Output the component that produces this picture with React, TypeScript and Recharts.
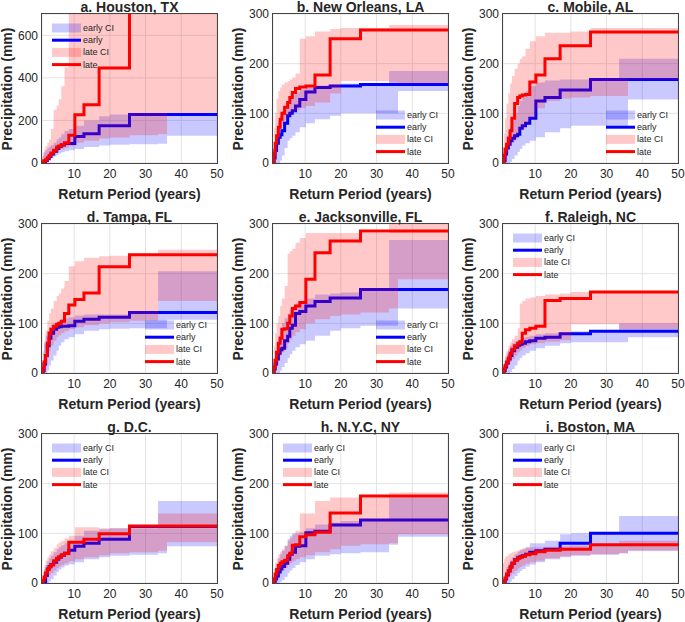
import React from 'react';
import { ComposedChart, Area, Line, XAxis, YAxis, CartesianGrid } from 'recharts';

// return periods (years) where the empirical curves / CI bands step
const returnPeriod = [1, 1.3, 1.6, 2, 2.5, 3, 3.5, 4.25, 5.1, 5.7, 6.4, 7.3, 8.5, 10.2, 12.75, 17, 20, 25.5, 33.5, 36, 50];

// a. Houston
const houEarly = [0, 0, 5, 12, 20, 30, 42, 55, 68, 78, 85, 92, 92, 125, 138, 175, 175, 228, 228, 228, 228];
const houLate = [0, 5, 10, 15, 25, 35, 47, 60, 75, 80, 86, 95, 130, 227, 274, 446, 446, 800, 800, 800, 800];
const houEarlyLo = [0, 0, 0, 2, 8, 15, 22, 30, 38, 45, 50, 55, 60, 66, 75, 82, 86, 88, 90, 128, 128];
const houEarlyHi = [20, 35, 50, 60, 70, 78, 85, 95, 110, 120, 135, 150, 160, 175, 200, 220, 228, 232, 232, 232, 232];
const houLateLo = [0, 5, 10, 15, 20, 28, 35, 45, 55, 60, 65, 72, 80, 95, 105, 115, 120, 130, 135, 235, 235];
const houLateHi = [30, 50, 65, 80, 95, 110, 160, 250, 270, 300, 360, 450, 800, 800, 800, 800, 800, 800, 800, 800, 800];

// b. New Orleans
const nolEarly = [0, 10, 25, 40, 52, 57, 65, 80, 95, 100, 105, 115, 128, 143, 152, 155, 155, 158, 158, 158, 158];
const nolLate = [0, 20, 40, 55, 72, 88, 100, 112, 122, 132, 142, 150, 153, 155, 177, 250, 250, 268, 268, 268, 268];
const nolEarlyLo = [0, 0, 0, 0, 0, 5, 15, 30, 45, 50, 55, 62, 72, 80, 88, 95, 100, 100, 100, 145, 145];
const nolEarlyHi = [10, 40, 55, 70, 85, 95, 105, 115, 125, 132, 138, 142, 148, 152, 156, 158, 160, 160, 185, 185, 185];
const nolLateLo = [0, 10, 25, 40, 55, 68, 78, 86, 94, 98, 102, 106, 110, 115, 122, 140, 165, 165, 162, 160, 160];
const nolLateHi = [30, 70, 100, 130, 145, 152, 158, 162, 165, 168, 172, 180, 250, 255, 265, 270, 272, 272, 278, 278, 278];

// c. Mobile
const mobEarly = [0, 5, 18, 30, 38, 45, 50, 55, 58, 70, 75, 80, 90, 125, 132, 147, 147, 168, 168, 168, 168];
const mobLate = [0, 15, 28, 38, 50, 65, 90, 120, 132, 135, 137, 138, 163, 177, 210, 236, 236, 264, 264, 264, 264];
const mobEarlyLo = [0, 0, 0, 0, 0, 2, 8, 15, 22, 28, 35, 40, 45, 52, 62, 70, 75, 75, 75, 128, 128];
const mobEarlyHi = [10, 25, 40, 55, 65, 75, 85, 100, 115, 125, 135, 145, 155, 162, 166, 168, 168, 170, 210, 210, 210];
const mobLateLo = [0, 5, 12, 20, 28, 35, 42, 50, 58, 65, 72, 80, 90, 110, 125, 130, 132, 135, 135, 168, 168];
const mobLateHi = [30, 60, 90, 120, 140, 160, 175, 190, 200, 210, 215, 230, 245, 255, 262, 262, 265, 272, 272, 272, 272];

// d. Tampa
const tpaEarly = [0, 5, 18, 35, 55, 70, 80, 88, 92, 93, 94, 94, 95, 104, 108, 112, 112, 122, 122, 122, 122];
const tpaLate = [0, 10, 22, 35, 60, 80, 88, 94, 98, 100, 104, 120, 137, 148, 161, 214, 214, 238, 238, 238, 238];
const tpaEarlyLo = [0, 0, 0, 0, 5, 15, 25, 35, 45, 55, 62, 68, 72, 78, 85, 88, 89, 90, 90, 107, 107];
const tpaEarlyHi = [20, 40, 60, 75, 85, 92, 97, 100, 103, 105, 108, 110, 112, 116, 118, 118, 118, 120, 205, 205, 205];
const tpaLateLo = [0, 0, 5, 15, 30, 45, 55, 65, 72, 76, 80, 84, 88, 92, 96, 100, 102, 105, 145, 145, 145];
const tpaLateHi = [25, 45, 65, 85, 105, 120, 130, 145, 155, 160, 170, 185, 215, 225, 232, 235, 236, 240, 248, 248, 248];

// e. Jacksonville
const jaxEarly = [0, 8, 18, 28, 40, 47, 50, 65, 74, 90, 96, 120, 124, 135, 144, 151, 151, 168, 168, 168, 168];
const jaxLate = [0, 12, 25, 42, 60, 70, 88, 89, 100, 115, 130, 135, 142, 189, 242, 266, 266, 286, 286, 286, 286];
const jaxEarlyLo = [0, 0, 0, 0, 0, 5, 12, 20, 30, 38, 45, 52, 58, 65, 75, 85, 90, 95, 95, 130, 130];
const jaxEarlyHi = [15, 30, 45, 60, 75, 90, 100, 110, 120, 128, 135, 140, 145, 150, 158, 160, 162, 168, 268, 268, 268];
const jaxLateLo = [0, 5, 12, 20, 28, 35, 42, 50, 60, 68, 75, 82, 88, 100, 108, 115, 118, 122, 130, 189, 189];
const jaxLateHi = [30, 55, 80, 100, 115, 135, 150, 175, 240, 245, 250, 262, 272, 282, 282, 282, 282, 282, 310, 310, 310];

// f. Raleigh
const ralEarly = [0, 5, 12, 20, 28, 35, 45, 52, 56, 58, 60, 63, 65, 70, 72, 79, 79, 84, 84, 84, 84];
const ralLate = [0, 8, 15, 22, 30, 40, 48, 55, 60, 63, 80, 87, 90, 94, 146, 150, 150, 163, 163, 163, 163];
const ralEarlyLo = [0, 0, 0, 0, 0, 2, 8, 15, 25, 30, 35, 40, 45, 50, 55, 60, 62, 62, 62, 72, 72];
const ralEarlyHi = [10, 20, 30, 40, 48, 55, 60, 64, 67, 69, 71, 73, 75, 78, 80, 82, 84, 86, 100, 100, 100];
const ralLateLo = [0, 3, 6, 10, 16, 22, 28, 35, 42, 46, 50, 54, 58, 60, 63, 66, 98, 98, 88, 88, 88];
const ralLateHi = [15, 25, 35, 45, 55, 62, 68, 75, 90, 140, 145, 150, 152, 155, 158, 160, 163, 165, 165, 165, 165];

// g. D.C.
const dcEarly = [0, 0, 3, 15, 28, 33, 37, 42, 48, 52, 56, 60, 66, 74, 80, 88, 88, 114, 114, 114, 114];
const dcLate = [0, 5, 12, 20, 27, 32, 36, 45, 50, 53, 57, 60, 82, 82, 88, 99, 99, 115, 115, 115, 115];
const dcEarlyLo = [0, 0, 0, 0, 0, 3, 8, 15, 22, 27, 31, 35, 38, 42, 48, 52, 55, 57, 60, 74, 74];
const dcEarlyHi = [10, 20, 28, 36, 44, 50, 55, 62, 68, 72, 76, 80, 85, 95, 105, 108, 110, 110, 165, 165, 165];
const dcLateLo = [0, 2, 5, 8, 12, 16, 20, 25, 30, 33, 36, 40, 44, 48, 52, 56, 60, 62, 65, 82, 82];
const dcLateHi = [15, 25, 35, 45, 52, 58, 64, 70, 78, 82, 85, 90, 95, 112, 112, 110, 110, 112, 140, 140, 140];

// h. N.Y.C
const nycEarly = [0, 3, 8, 14, 22, 28, 33, 40, 48, 58, 62, 74, 75, 101, 104, 117, 117, 127, 127, 127, 127];
const nycLate = [0, 8, 18, 27, 35, 40, 43, 46, 55, 60, 76, 77, 93, 97, 102, 141, 141, 175, 175, 175, 175];
const nycEarlyLo = [0, 0, 0, 0, 0, 2, 6, 12, 20, 25, 30, 36, 42, 48, 55, 58, 60, 62, 77, 93, 93];
const nycEarlyHi = [10, 20, 30, 40, 50, 58, 65, 75, 88, 95, 100, 100, 102, 110, 118, 122, 125, 128, 172, 172, 172];
const nycLateLo = [0, 3, 6, 10, 15, 20, 25, 30, 36, 40, 44, 48, 52, 56, 62, 68, 75, 78, 80, 98, 98];
const nycLateHi = [15, 28, 40, 50, 58, 63, 68, 75, 85, 90, 97, 105, 140, 140, 165, 172, 172, 172, 182, 182, 182];

// i. Boston
const bosEarly = [0, 3, 8, 16, 24, 32, 40, 47, 51, 53, 55, 58, 62, 65, 68, 80, 80, 100, 100, 100, 100];
const bosLate = [0, 4, 10, 18, 25, 32, 40, 46, 50, 52, 54, 57, 59, 63, 66, 68, 68, 77, 77, 77, 77];
const bosEarlyLo = [0, 0, 0, 0, 0, 3, 8, 14, 20, 24, 28, 33, 37, 42, 48, 52, 55, 57, 60, 65, 65];
const bosEarlyHi = [8, 16, 24, 32, 40, 46, 52, 58, 63, 66, 68, 72, 80, 80, 85, 98, 100, 100, 135, 135, 135];
const bosLateLo = [0, 2, 4, 7, 11, 15, 19, 24, 29, 32, 35, 39, 42, 45, 50, 54, 56, 58, 60, 65, 65];
const bosLateHi = [40, 48, 52, 55, 58, 60, 62, 64, 66, 68, 70, 71, 72, 72, 73, 74, 75, 78, 85, 85, 85];

const xTicks = [10, 20, 30, 40, 50];
const yTicks300 = [0, 100, 200, 300];
const yTicks700 = [0, 200, 400, 600];

const FONT = '"Liberation Sans", Arial, Helvetica, sans-serif';
const BLUE = '#0000ff';
const RED = '#ff0000';
const CI_OPACITY = 0.21;
const TEXT = '#262626';

const COLS = [42, 273, 503];
const ROWS = [14, 224, 434];
const PLOT_W = 175;
const PLOT_H = 149;
const CHART_W = 48 + PLOT_W + 8;
const CHART_H = 24 + PLOT_H + 20;
const MARGIN = { top: 24, right: 8, bottom: 0, left: 0 };

const panels = [
  { title: 'a. Houston, TX', col: 0, row: 0, yMax: 700, yTicks: yTicks700, legend: 'tl', early: houEarly, late: houLate, eLo: houEarlyLo, eHi: houEarlyHi, lLo: houLateLo, lHi: houLateHi },
  { title: 'b. New Orleans, LA', col: 1, row: 0, yMax: 300, yTicks: yTicks300, legend: 'br', early: nolEarly, late: nolLate, eLo: nolEarlyLo, eHi: nolEarlyHi, lLo: nolLateLo, lHi: nolLateHi },
  { title: 'c. Mobile, AL', col: 2, row: 0, yMax: 300, yTicks: yTicks300, legend: 'br', early: mobEarly, late: mobLate, eLo: mobEarlyLo, eHi: mobEarlyHi, lLo: mobLateLo, lHi: mobLateHi },
  { title: 'd. Tampa, FL', col: 0, row: 1, yMax: 300, yTicks: yTicks300, legend: 'br', early: tpaEarly, late: tpaLate, eLo: tpaEarlyLo, eHi: tpaEarlyHi, lLo: tpaLateLo, lHi: tpaLateHi },
  { title: 'e. Jacksonville, FL', col: 1, row: 1, yMax: 300, yTicks: yTicks300, legend: 'br', early: jaxEarly, late: jaxLate, eLo: jaxEarlyLo, eHi: jaxEarlyHi, lLo: jaxLateLo, lHi: jaxLateHi },
  { title: 'f. Raleigh, NC', col: 2, row: 1, yMax: 300, yTicks: yTicks300, legend: 'tl', early: ralEarly, late: ralLate, eLo: ralEarlyLo, eHi: ralEarlyHi, lLo: ralLateLo, lHi: ralLateHi },
  { title: 'g. D.C.', col: 0, row: 2, yMax: 300, yTicks: yTicks300, legend: 'tl', early: dcEarly, late: dcLate, eLo: dcEarlyLo, eHi: dcEarlyHi, lLo: dcLateLo, lHi: dcLateHi },
  { title: 'h. N.Y.C, NY', col: 1, row: 2, yMax: 300, yTicks: yTicks300, legend: 'tl', early: nycEarly, late: nycLate, eLo: nycEarlyLo, eHi: nycEarlyHi, lLo: nycLateLo, lHi: nycLateHi },
  { title: 'i. Boston, MA', col: 2, row: 2, yMax: 300, yTicks: yTicks300, legend: 'tl', early: bosEarly, late: bosLate, eLo: bosEarlyLo, eHi: bosEarlyHi, lLo: bosLateLo, lHi: bosLateHi },
];

const legendItems = [
  { label: 'early CI', kind: 'patch', color: BLUE },
  { label: 'early', kind: 'line', color: BLUE },
  { label: 'late CI', kind: 'patch', color: RED },
  { label: 'late', kind: 'line', color: RED },
];

const PanelLegend = ({ pos, left, top }: any) => {
  const x0 = pos === 'tl' ? 10 : 103;
  const y0 = pos === 'tl' ? 14 : 101;
  return (
    <svg style={{ position: 'absolute', left, top, overflow: 'visible', pointerEvents: 'none' }} width={PLOT_W} height={PLOT_H}>
      {legendItems.map((it, i) => {
        const cy = y0 + i * 12.2;
        return (
          <g key={it.label}>
            {it.kind === 'patch' ? (
              <rect x={x0} y={cy - 4.5} width={29} height={9} fill={it.color} fillOpacity={CI_OPACITY} />
            ) : (
              <line x1={x0} x2={x0 + 29} y1={cy} y2={cy} stroke={it.color} strokeWidth={3} />
            )}
            <text x={x0 + 31} y={cy} dominantBaseline="central" fontSize={9} fill={TEXT} fontFamily={FONT}>{it.label}</text>
          </g>
        );
      })}
    </svg>
  );
};

const Panel = ({ p }: any) => {
  const left = COLS[p.col];
  const top = ROWS[p.row];
  const rows = returnPeriod.map((t, i) => ({
    t,
    early: p.early[i],
    late: p.late[i],
    earlyCI: [p.eLo[i], p.eHi[i]],
    lateCI: [p.lLo[i], p.lHi[i]],
  }));
  const tickStyle = { fontSize: 12, fill: TEXT, fontFamily: FONT };
  const layerPos = { position: 'absolute' as const, left: left - 48, top: top - 24 };
  const labelStyle = { position: 'absolute' as const, height: 14, lineHeight: '14px', textAlign: 'center' as const, fontWeight: 'bold' as const, fontSize: 14, color: TEXT, whiteSpace: 'nowrap' as const };
  return (
    <>
      {/* early period underneath */}
      <div style={layerPos}>
        <ComposedChart width={CHART_W} height={CHART_H} data={rows} margin={MARGIN}>
          <CartesianGrid stroke="#e3e3e3" />
          <XAxis dataKey="t" type="number" domain={[1, 50]} ticks={xTicks} interval={0} allowDataOverflow
            axisLine={false} tickLine={false} tickSize={4} tickMargin={2} height={20} tick={tickStyle} />
          <YAxis type="number" domain={[0, p.yMax]} ticks={p.yTicks} interval={0} allowDataOverflow
            axisLine={false} tickLine={false} tickSize={2} tickMargin={2} width={48} tick={tickStyle} />
          <Area dataKey="earlyCI" type="stepAfter" fill={BLUE} fillOpacity={CI_OPACITY} stroke="none" isAnimationActive={false} />
          <Line dataKey="early" type="stepAfter" stroke={BLUE} strokeWidth={3} dot={false} isAnimationActive={false} />
        </ComposedChart>
      </div>
      {/* late period drawn on top, same plot box */}
      <div style={{ ...layerPos, pointerEvents: 'none' }}>
        <ComposedChart width={CHART_W} height={CHART_H} data={rows} margin={MARGIN}>
          <XAxis dataKey="t" type="number" domain={[1, 50]} ticks={xTicks} allowDataOverflow
            axisLine={false} tickLine={false} tick={false} height={20} />
          <YAxis type="number" domain={[0, p.yMax]} ticks={p.yTicks} allowDataOverflow
            axisLine={false} tickLine={false} tick={false} width={48} />
          <Area dataKey="lateCI" type="stepAfter" fill={RED} fillOpacity={CI_OPACITY} stroke="none" isAnimationActive={false} />
          <Line dataKey="late" type="stepAfter" stroke={RED} strokeWidth={3} dot={false} isAnimationActive={false} />
        </ComposedChart>
      </div>
      <div style={{ position: 'absolute', left: left - 1, top: top - 1, width: PLOT_W, height: PLOT_H, border: '1px solid #444', pointerEvents: 'none' }} />
      <PanelLegend pos={p.legend} left={left} top={top} />
      <div style={{ ...labelStyle, left, top: top - 14, width: PLOT_W }}>{p.title}</div>
      <div style={{ ...labelStyle, left: left - 10, top: top + PLOT_H + 24, width: PLOT_W + 20 }}>Return Period (years)</div>
      <div style={{ ...labelStyle, left: left - 35 - 75, top: top + PLOT_H / 2 - 7, width: 150, transform: 'rotate(-90deg)' }}>Precipitation (mm)</div>
    </>
  );
};

export default function App() {
  return (
    <div style={{ position: 'absolute', left: 0, top: 0, width: 685, height: 622, overflow: 'hidden', background: '#fff', fontFamily: FONT }}>
      {panels.map((p) => (
        <Panel key={p.title} p={p} />
      ))}
    </div>
  );
}
